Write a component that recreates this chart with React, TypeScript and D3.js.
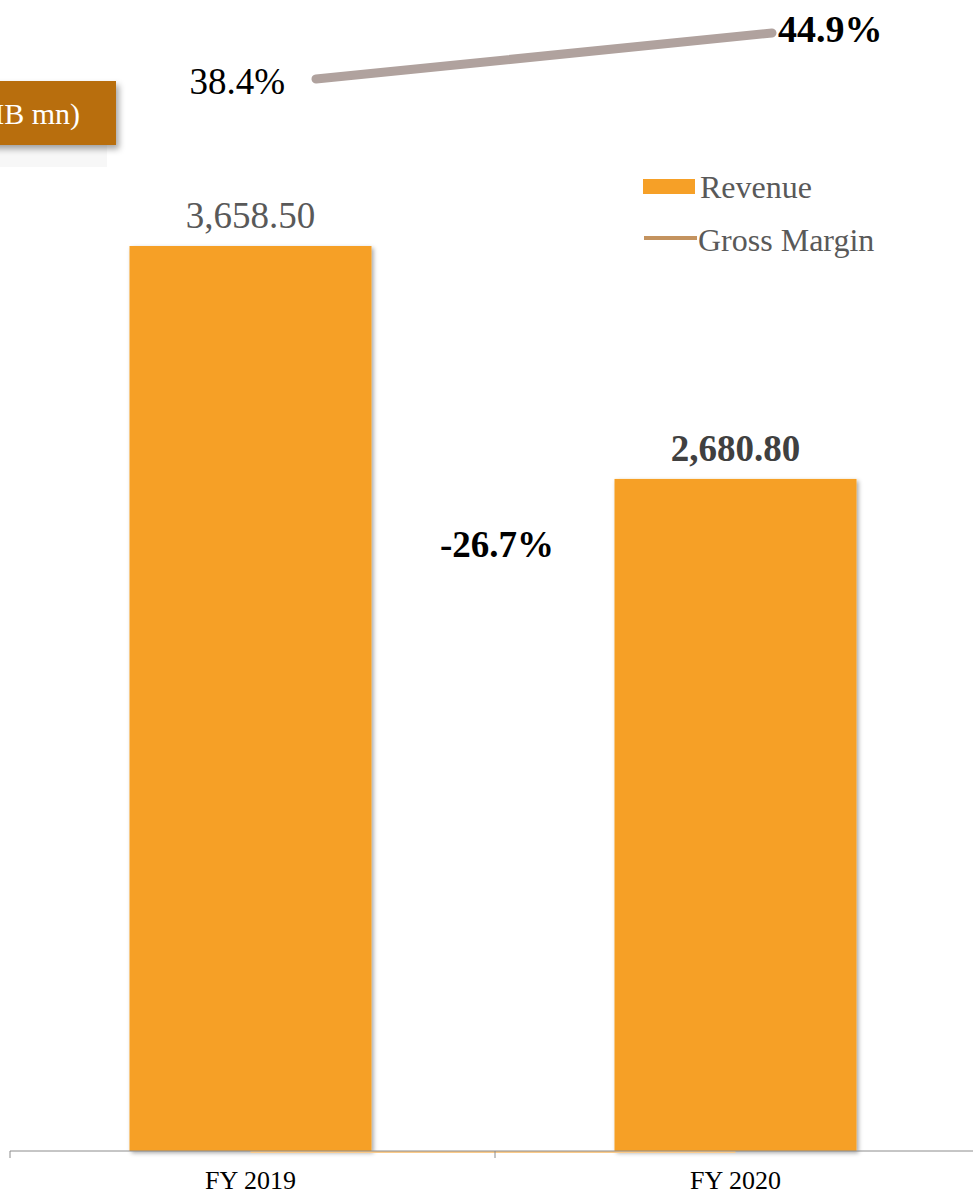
import React from "react";
import * as d3 from "d3";

const categories = ["FY 2019", "FY 2020"];
const revenue = [3658.5, 2680.8];
const revenueLabels = ["3,658.50", "2,680.80"];
const grossMargin = [38.4, 44.9];
const marginLabels = ["38.4%", "44.9%"];
const growthLabel = "-26.7%";

const W = 973;
const H = 1194;
const FONT = "'Liberation Serif', 'Times New Roman', serif";

export default function App() {
  const x = d3.scaleBand<string>().domain(categories).range([10, 980]).paddingInner(0).paddingOuter(0);
  const y = d3.scaleLinear().domain([-140, 3658.5]).range([1151, 246]);
  const xl = d3.scalePoint<string>().domain(categories).range([316, 772]);
  const ym = d3.scaleLinear().domain([30, 50]).range([138.4, -3.1]);
  const barW = 242;
  const cx = (c: string) => (x(c) as number) + x.bandwidth() / 2 - 2;
  const line = d3
    .line<number>()
    .x((_, i) => xl(categories[i]) as number)
    .y((d) => ym(d));

  return (
    <svg width={W} height={H} style={{ position: "absolute", left: 0, top: 0 }} fontFamily={FONT}>
      <defs>
        <filter id="sh" x="-10%" y="-10%" width="130%" height="130%">
          <feDropShadow dx="2" dy="2" stdDeviation="2" floodColor="#000" floodOpacity="0.35" />
        </filter>
        <filter id="sh2" x="-20%" y="-20%" width="140%" height="160%">
          <feDropShadow dx="3" dy="4" stdDeviation="3" floodColor="#000" floodOpacity="0.35" />
        </filter>
      </defs>
      <rect x={0} y={0} width={W} height={H} fill="#fff" />

      {/* unit box */}
      <rect x={0} y={145} width={107} height={22} fill="#f7f7f7" />
      <rect x={-40} y={81} width={156} height={64} fill="#B86E0A" filter="url(#sh2)" />
      <text x={80} y={124} textAnchor="end" fontSize={30} fill="#fff">(THB mn)</text>

      {/* bars */}
      {categories.map((c, i) => (
        <rect
          key={c}
          x={cx(c) - barW / 2}
          y={y(revenue[i])}
          width={barW}
          height={y(-140) - y(revenue[i])}
          fill="#F6A027"
          filter="url(#sh)"
        />
      ))}

      {/* hidden zero series line */}
      <line x1={cx(categories[0])} x2={cx(categories[1])} y1={1152} y2={1152} stroke="#FBCB8A" strokeWidth={2} />

      {/* axis */}
      <line x1={10} x2={W} y1={1151} y2={1151} stroke="#8C8C8C" strokeWidth={1} />
      {[10, 495, 980].map((t) => (
        <line key={t} x1={t} x2={t} y1={1151} y2={1158} stroke="#8C8C8C" strokeWidth={1} />
      ))}
      {categories.map((c) => (
        <text key={c} x={cx(c)} y={1189} textAnchor="middle" fontSize={26} fill="#000">
          {c}
        </text>
      ))}

      {/* bar labels */}
      <text x={cx(categories[0])} y={228} textAnchor="middle" fontSize={37} fill="#595959">
        {revenueLabels[0]}
      </text>
      <text x={cx(categories[1])} y={461} textAnchor="middle" fontSize={37} fontWeight="bold" fill="#404040">
        {revenueLabels[1]}
      </text>
      <text x={497} y={557} textAnchor="middle" fontSize={37} fontWeight="bold" fill="#000">
        {growthLabel}
      </text>

      {/* gross margin line */}
      <path d={line(grossMargin) as string} fill="none" stroke="#B0A29E" strokeWidth={9} strokeLinecap="round" />
      <text x={(xl(categories[0]) as number) - 31} y={ym(grossMargin[0]) + 15} textAnchor="end" fontSize={37} fill="#000">
        {marginLabels[0]}
      </text>
      <text x={(xl(categories[1]) as number) + 6} y={ym(grossMargin[1]) + 9} fontSize={38} fontWeight="bold" fill="#000">
        {marginLabels[1]}
      </text>

      {/* legend */}
      <rect x={643} y={179} width={52} height={15} fill="#F6A027" />
      <text x={700} y={198} fontSize={32} fill="#595959">Revenue</text>
      <line x1={644} x2={697} y1={238} y2={238} stroke="#C4935F" strokeWidth={4} />
      <text x={698} y={251} fontSize={32} fill="#595959">Gross Margin</text>
    </svg>
  );
}
